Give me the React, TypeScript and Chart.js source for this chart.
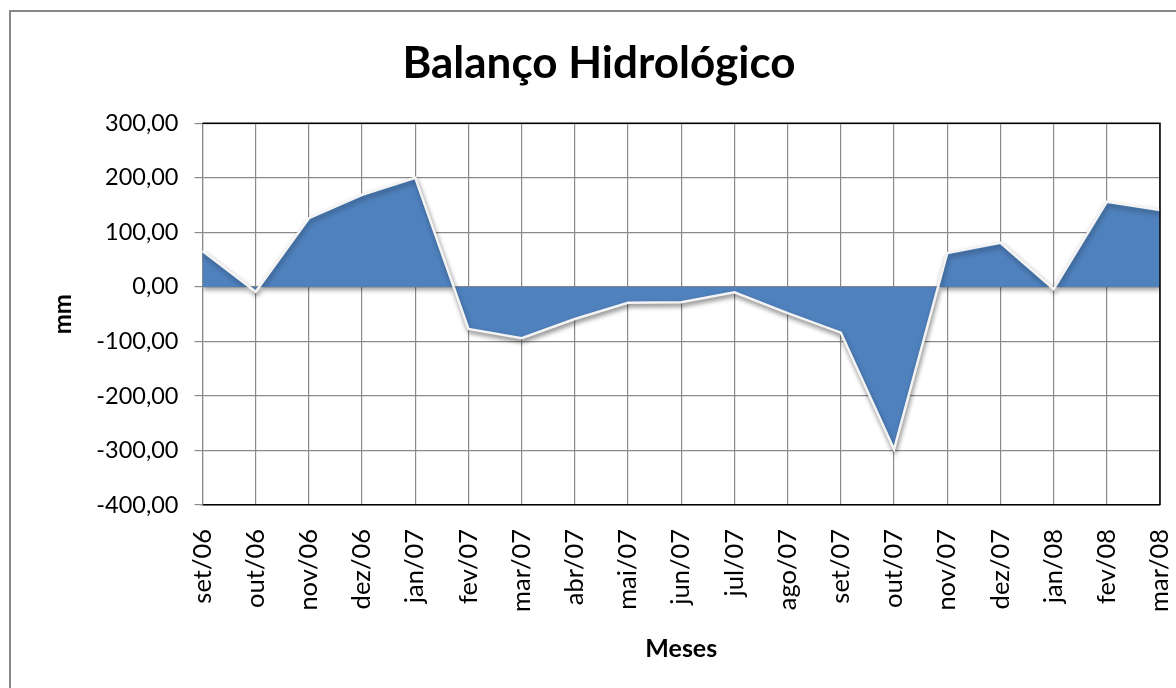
import React, { useEffect, useRef } from 'react';
import { Chart, registerables } from 'chart.js';

Chart.register(...registerables);

const chartTitle = 'Balanço Hidrológico';
const xAxisTitle = 'Meses';
const yAxisTitle = 'mm';

const months = [
  'set/06', 'out/06', 'nov/06', 'dez/06', 'jan/07', 'fev/07', 'mar/07', 'abr/07',
  'mai/07', 'jun/07', 'jul/07', 'ago/07', 'set/07', 'out/07', 'nov/07', 'dez/07',
  'jan/08', 'fev/08', 'mar/08',
];

const balance = [
  66, -9, 126, 169, 200, -77, -94, -59,
  -29, -28, -10, -48, -84, -298, 62, 81,
  -4, 156, 141,
];

const yMin = -400;
const yMax = 300;
const yStep = 100;

const fmt = (v: number) => Number(v).toFixed(2).replace('.', ',');

export default function App() {
  const ref = useRef<HTMLCanvasElement>(null);

  useEffect(() => {
    if (!ref.current) return;

    const shadowPlugin = {
      id: 'areaShadow',
      beforeDatasetsDraw(chart: any) {
        const ctx = chart.ctx;
        ctx.save();
        ctx.shadowColor = 'rgba(0,0,0,0.38)';
        ctx.shadowBlur = 5;
        ctx.shadowOffsetX = 1;
        ctx.shadowOffsetY = 3;
      },
      afterDatasetsDraw(chart: any) {
        chart.ctx.restore();
      },
    };

    const framePlugin = {
      id: 'frame',
      afterDraw(chart: any) {
        const ctx = chart.ctx;
        const a = chart.chartArea;
        ctx.save();
        ctx.strokeStyle = '#000';
        ctx.lineWidth = 1.5;
        ctx.beginPath();
        ctx.moveTo(a.left, a.top);
        ctx.lineTo(a.right, a.top);
        ctx.lineTo(a.right, a.bottom);
        ctx.stroke();
        ctx.strokeStyle = '#878787';
        ctx.lineWidth = 2;
        ctx.strokeRect(10, 11, 1220, 720);
        ctx.restore();
      },
    };

    const chart = new Chart(ref.current, {
      type: 'line',
      data: {
        labels: months,
        datasets: [
          {
            label: 'Balanço',
            data: balance,
            fill: 'origin',
            backgroundColor: '#4F81BD',
            borderColor: '#F4F4F4',
            borderWidth: 2.5,
            pointRadius: 0,
            tension: 0,
          },
        ],
      },
      options: {
        responsive: false,
        animation: false,
        layout: { padding: { left: 38, right: 16, top: 0, bottom: 0 } },
        plugins: {
          legend: { display: false },
          tooltip: { enabled: false },
          title: {
            display: true,
            text: chartTitle,
            color: '#000',
            font: { family: 'Lato', size: 44, weight: 'bold' },
            padding: { top: 37, bottom: 33.5 },
          },
        },
        scales: {
          x: {
            offset: false,
            ticks: {
              autoSkip: false,
              minRotation: 90,
              maxRotation: 90,
              padding: 24,
              color: '#000',
              font: { family: 'Lato', size: 25.5 },
            },
            grid: { color: '#8a8a8a', lineWidth: 1.2, drawTicks: false, offset: false },
            border: { color: '#000', width: 1.5 },
            title: {
              display: true,
              text: xAxisTitle,
              color: '#000',
              font: { family: 'Lato', size: 25, weight: 'bold' },
              padding: { top: 0, bottom: 24 },
            },
            afterFit: (s: any) => {
              s.height = 183;
              s.paddingLeft = 0;
              s.paddingRight = 0;
            },
          },
          y: {
            min: yMin,
            max: yMax,
            ticks: {
              stepSize: yStep,
              padding: 16,
              color: '#000',
              font: { family: 'Lato', size: 23.5 },
              callback: (v: any) => fmt(v),
            },
            grid: { color: '#8a8a8a', lineWidth: 1.2, tickLength: 8, drawTicks: true },
            border: { color: '#8a8a8a', width: 1.2 },
            title: {
              display: true,
              text: yAxisTitle,
              color: '#000',
              font: { family: 'Lato', size: 24, weight: 'bold' },
              padding: { top: 10.6, bottom: 0 },
            },
            afterFit: (s: any) => {
              s.width = 164.5;
              s.paddingTop = 0;
              s.paddingBottom = 0;
            },
          },
        },
      },
      plugins: [shadowPlugin, framePlugin],
    });

    return () => chart.destroy();
  }, []);

  return (
    <div style={{ position: 'absolute', left: 0, top: 0, width: 1176, height: 688, background: '#fff', overflow: 'hidden' }}>
      <canvas ref={ref} width={1176} height={688} style={{ width: 1176, height: 688, display: 'block' }} />
    </div>
  );
}
